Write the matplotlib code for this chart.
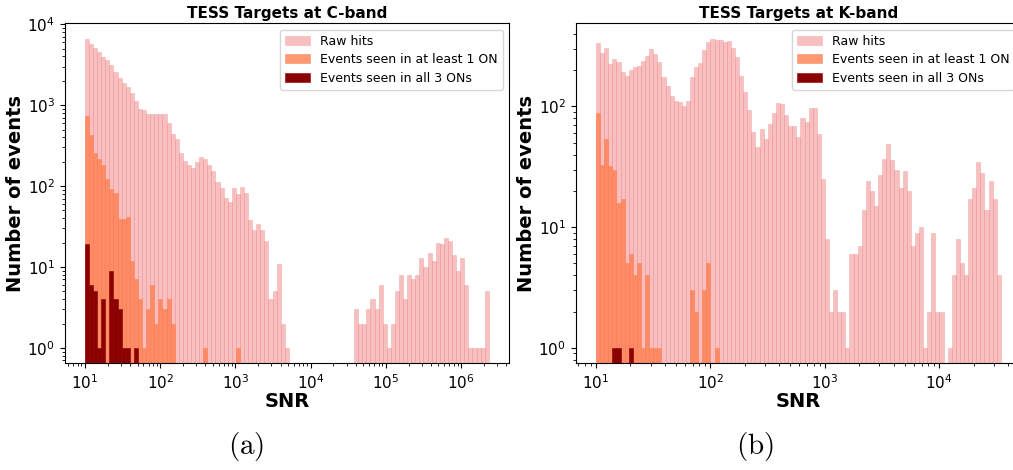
# TESS targets: SNR histograms of hits at C-band and K-band
import numpy as np
import matplotlib
matplotlib.use("Agg")
import matplotlib.pyplot as plt

# ---------------------------------------------------------------------------
# DATA  (counts per log-spaced SNR bin, 99 bins per panel)
# ---------------------------------------------------------------------------
c_snr_min, c_snr_max = 10.0, 2.33e6
k_snr_min, k_snr_max = 10.0, 3.45e4

c_raw = [6620, 5740, 5040, 4590, 3990, 3650, 3170, 2600, 2190, 1870,
         1700, 1410, 1140, 890, 870, 785, 770, 786, 771, 786,
         609, 437, 377, 253, 204, 182, 166, 198, 228, 215,
         180, 153, 112, 95, 71, 64, 95, 80, 97, 82,
         38, 29, 34, 29, 21, 4, 5, 11, 2, 1,
         0, 0, 0, 0, 0, 0, 0, 0, 0, 0,
         0, 0, 0, 0, 0, 0, 3, 2, 2, 3,
         4, 3, 6, 2, 1, 2, 5, 8, 4, 8,
         7, 8, 13, 10, 15, 12, 20, 19, 23, 21,
         14, 9, 13, 6, 1, 1, 1, 1, 5]
c_one_on = [734, 425, 258, 215, 180, 122, 91, 81, 39, 39,
            42, 12, 7, 4, 1, 3, 6, 2, 4, 3,
            4, 2, 0, 0, 0, 0, 0, 0, 0, 1,
            0, 0, 0, 0, 0, 0, 0, 1] + [0] * 61
c_all_on = [19, 6, 5, 1, 4, 0, 9, 4, 3, 1,
            1, 0, 1] + [0] * 86

k_raw = [336, 278, 305, 227, 248, 234, 194, 180, 201, 214,
         217, 239, 263, 300, 272, 235, 174, 149, 121, 110,
         108, 100, 112, 177, 214, 231, 296, 340, 364, 357,
         357, 344, 351, 307, 259, 180, 133, 93, 61, 46,
         65, 54, 71, 88, 106, 104, 85, 69, 69, 56,
         80, 75, 97, 98, 59, 25, 8, 2, 3, 2,
         2, 1, 6, 6, 7, 14, 24, 20, 15, 27,
         37, 49, 36, 30, 21, 29, 20, 7, 9, 10,
         1, 2, 9, 2, 2, 0, 1, 4, 8, 5,
         4, 17, 21, 35, 28, 14, 24, 17, 4]
k_one_on = [89, 33, 54, 32, 30, 16, 17, 5, 6, 4,
            5, 1, 4, 1, 1, 1, 0, 0, 0, 0,
            0, 0, 0, 3, 2, 0, 3, 5, 0, 1] + [0] * 69
k_all_on = [0, 0, 0, 0, 1, 1, 0, 0, 1] + [0] * 90

labels = ["Raw hits", "Events seen in at least 1 ON", "Events seen in all 3 ONs"]
titles = ["TESS Targets at C-band", "TESS Targets at K-band"]
captions = ["(a)", "(b)"]

# ---------------------------------------------------------------------------
# PLOT
# ---------------------------------------------------------------------------
plt.rcParams["mathtext.fontset"] = "cm"

fig = plt.figure(figsize=(10.13, 4.70), dpi=100)
ax_c = fig.add_axes([0.0639, 0.227, 0.4385, 0.7234])
ax_k = fig.add_axes([0.5684, 0.227, 0.4395, 0.7234])

panels = [
    (ax_c, c_snr_min, c_snr_max, [c_raw, c_one_on, c_all_on]),
    (ax_k, k_snr_min, k_snr_max, [k_raw, k_one_on, k_all_on]),
]
styles = [
    dict(color="lightcoral", alpha=0.5),
    dict(color="coral", alpha=0.8),
    dict(color="darkred", alpha=1.0),
]

for i, (ax, lo, hi, series) in enumerate(panels):
    edges = np.logspace(np.log10(lo), np.log10(hi), 100)
    centers = np.sqrt(edges[:-1] * edges[1:])
    for counts, label, style in zip(series, labels, styles):
        ax.hist(centers, bins=edges, weights=counts, label=label,
                edgecolor=style["color"], linewidth=0.4, **style)
    ax.set_xscale("log")
    ax.set_yscale("log")
    ax.set_title(titles[i], fontsize=11, fontweight="bold", pad=4)
    ax.set_xlabel("SNR", fontsize=14, fontweight="bold", labelpad=0)
    ax.set_ylabel("Number of events", fontsize=14, fontweight="bold",
                  labelpad=2)
    ax.tick_params(labelsize=11)
    ax.legend(loc="upper right", fontsize=9, labelspacing=0.45)
    fig.text((0.243, 0.745)[i], 0.05, r"$\mathrm{%s}$" % captions[i],
             fontsize=21, ha="center", va="center")

fig.savefig("out.png", dpi=100)
